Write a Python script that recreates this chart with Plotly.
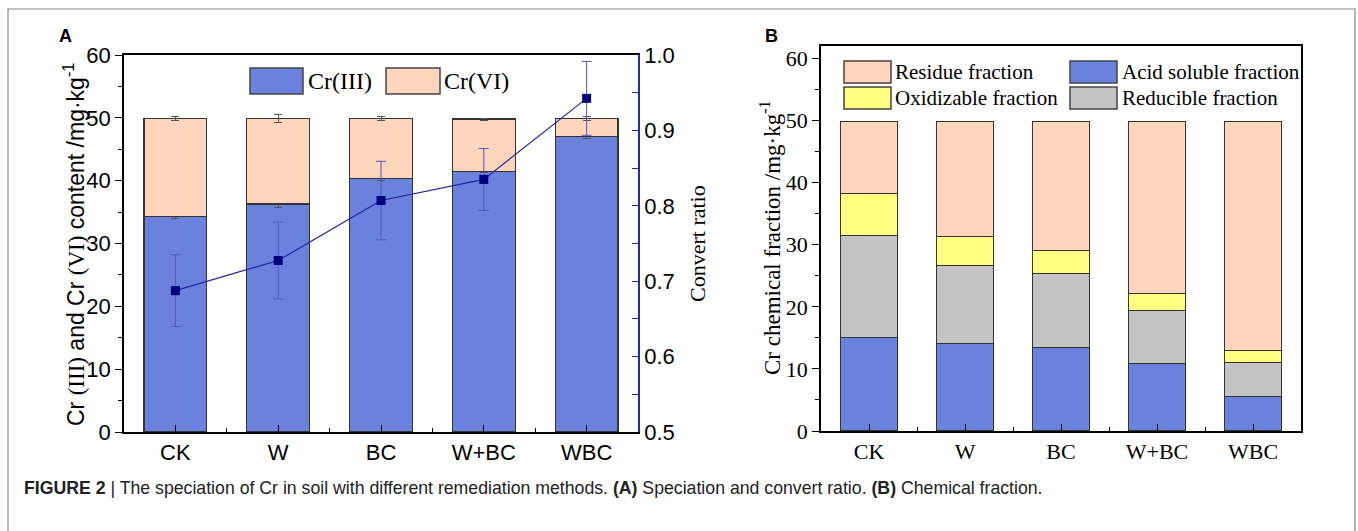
import plotly.graph_objects as go

# ---------------- data ----------------
categories = ["CK", "W", "BC", "W+BC", "WBC"]

# Panel A: speciation (mg/kg) and convert ratio
cr3 = [34.3, 36.3, 40.3, 41.5, 47.0]
cr3_err = [0.3, 0.5, 0.3, 0.15, 0.3]
cr6 = [15.6, 13.6, 9.6, 8.3, 2.9]
total_err = [0.3, 0.6, 0.25, 0.15, 0.3]
convert_ratio = [0.6875, 0.7275, 0.807, 0.835, 0.9425]
convert_err = [0.0475, 0.051, 0.052, 0.041, 0.049]

# Panel B: chemical fractions (mg/kg)
acid_soluble = [15.0, 14.1, 13.4, 10.9, 5.5]
reducible = [16.5, 12.6, 12.0, 8.5, 5.5]
oxidizable = [6.7, 4.6, 3.7, 2.8, 2.0]
residue = [11.7, 18.6, 20.8, 27.6, 36.9]

# ---------------- styles ----------------
W, H = 1358, 531
BLUE = "rgb(106,130,221)"
PEACH = "rgb(253,212,188)"
YELLOW = "rgb(255,255,128)"
GRAY = "rgb(196,196,196)"
NAVY = "#2a2a9c"
EDGE = "#333333"
SANS = "Liberation Sans, Arial, sans-serif"
SERIF = "Liberation Serif, Times New Roman, serif"


def px(x):
    return x / W


def py(y):
    return 1 - y / H


xpos = list(range(len(categories)))

fig = go.Figure()

# Panel A bars
fig.add_trace(go.Bar(
    x=xpos, y=cr3, name="Cr(III)", width=0.61, xaxis="x", yaxis="y",
    marker=dict(color=BLUE, line=dict(color=EDGE, width=1.2)),
    error_y=dict(type="data", array=cr3_err, color="#555555", thickness=1, width=4),
    showlegend=False,
))
fig.add_trace(go.Bar(
    x=xpos, y=cr6, name="Cr(VI)", width=0.61, xaxis="x", yaxis="y",
    marker=dict(color=PEACH, line=dict(color=EDGE, width=1.2)),
    error_y=dict(type="data", array=total_err, color="#555555", thickness=1, width=4),
    showlegend=False,
))
# Convert ratio line
fig.add_trace(go.Scatter(
    x=xpos, y=convert_ratio, name="Convert ratio", xaxis="x", yaxis="y2",
    mode="lines+markers",
    line=dict(color="#2323a8", width=1.2),
    marker=dict(symbol="square", size=9, color="#000080"),
    error_y=dict(type="data", array=convert_err, color="#5555bb", thickness=1, width=5),
    showlegend=False,
))

# Panel B bars
seriesB = [
    ("Acid soluble fraction", acid_soluble, BLUE),
    ("Reducible fraction", reducible, GRAY),
    ("Oxidizable fraction", oxidizable, YELLOW),
    ("Residue fraction", residue, PEACH),
]
for name, vals, col in seriesB:
    fig.add_trace(go.Bar(
        x=xpos, y=vals, name=name, width=0.6, xaxis="x2", yaxis="y3",
        marker=dict(color=col, line=dict(color=EDGE, width=1.2)),
        showlegend=False,
    ))

axA_x = [px(124), px(638)]
axA_y = [py(432), py(55)]
axB_x = [px(821), px(1301)]
axB_y = [py(431), py(46)]

common_x = dict(
    range=[-0.5, 4.5], tickmode="array", tickvals=xpos, ticktext=categories,
    showline=True, linecolor="black", linewidth=1.5, mirror=True,
    ticks="inside", ticklen=7, tickcolor="black", tickwidth=1.2,
    minor=dict(dtick=0.5, tick0=0.5, ticks="inside", ticklen=4, tickcolor="black"),
    showgrid=False, zeroline=False, automargin=False,
)

fig.update_layout(
    width=W, height=H,
    margin=dict(l=0, r=0, t=0, b=0, pad=0),
    paper_bgcolor="white", plot_bgcolor="white",
    barmode="stack",
    showlegend=False,
    xaxis=dict(domain=axA_x, anchor="y",
               tickfont=dict(family=SANS, size=22, color="black"), **common_x),
    yaxis=dict(domain=axA_y, anchor="x", range=[0, 60], dtick=10,
               showline=True, linecolor="black", linewidth=1.5,
               ticks="outside", ticklen=7, tickwidth=1.2, tickcolor="black",
               minor=dict(dtick=5, ticks="outside", ticklen=4, tickcolor="black"),
               showgrid=False, zeroline=False, automargin=False,
               tickfont=dict(family=SANS, size=22, color="black")),
    yaxis2=dict(overlaying="y", anchor="x", side="right", range=[0.5, 1.0],
                dtick=0.1, tickformat=".1f",
                showline=True, linecolor=NAVY, linewidth=1.5,
                ticks="inside", ticklen=6, tickwidth=1.2, tickcolor=NAVY,
                minor=dict(dtick=0.05, ticks="inside", ticklen=6, tickcolor=NAVY),
                showgrid=False, zeroline=False, automargin=False,
                tickfont=dict(family=SANS, size=22, color="black")),
    xaxis2=dict(domain=axB_x, anchor="y3",
                tickfont=dict(family=SERIF, size=22, color="black"), **common_x),
    yaxis3=dict(domain=axB_y, anchor="x2", range=[0, 62], tickvals=[0, 10, 20, 30, 40, 50, 60],
                showline=True, linecolor="black", linewidth=1.5, mirror=True,
                ticks="outside", ticklen=7, tickwidth=1.2, tickcolor="black",
                minor=dict(tickvals=[5, 15, 25, 35, 45, 55], ticks="outside", ticklen=4, tickcolor="black"),
                showgrid=False, zeroline=False, automargin=False,
                tickfont=dict(family=SERIF, size=22, color="black")),
)

shapes = []
annotations = []

# outer frame
shapes.append(dict(type="rect", xref="paper", yref="paper",
                   x0=px(8), x1=px(1355), y0=py(560), y1=py(9),
                   line=dict(color="#8a8a8a", width=1.2), fillcolor="rgba(0,0,0,0)", layer="below"))


def legend_item(x0, x1, y0, y1, color, text, tx, family, size):
    shapes.append(dict(type="rect", xref="paper", yref="paper",
                       x0=px(x0), x1=px(x1), y0=py(y1), y1=py(y0),
                       fillcolor=color, line=dict(color="#444444", width=1.5)))
    annotations.append(dict(xref="paper", yref="paper", x=px(tx), y=py((y0 + y1) / 2),
                            xanchor="left", yanchor="middle", showarrow=False,
                            text=text, font=dict(family=family, size=size, color="black")))


# Panel A legend
legend_item(250, 303, 68, 94, BLUE, "Cr(III)", 306, SERIF, 24)
legend_item(386, 440, 68, 94, PEACH, "Cr(VI)", 442, SERIF, 24)

# Panel B legend
legend_item(844, 891, 61, 83, PEACH, "Residue fraction", 893, SERIF, 21)
legend_item(1070, 1117, 61, 83, BLUE, "Acid soluble fraction", 1120, SERIF, 21)
legend_item(844, 891, 87, 109, YELLOW, "Oxidizable fraction", 893, SERIF, 21)
legend_item(1070, 1117, 87, 109, GRAY, "Reducible fraction", 1120, SERIF, 21)

# panel letters
annotations.append(dict(xref="paper", yref="paper", x=px(65), y=py(36), showarrow=False,
                        xanchor="center", yanchor="middle",
                        text="<b>A</b>", font=dict(family=SANS, size=18, color="black")))
annotations.append(dict(xref="paper", yref="paper", x=px(771), y=py(36), showarrow=False,
                        xanchor="center", yanchor="middle",
                        text="<b>B</b>", font=dict(family=SANS, size=18, color="black")))

# axis titles
ytitleA = ("Cr <span style=\"font-family:Liberation Serif\">(III)</span> and Cr "
           "<span style=\"font-family:Liberation Serif\">(VI)</span> content /mg·kg<sup>-1</sup>")
annotations.append(dict(xref="paper", yref="paper", x=px(74), y=py(245), showarrow=False,
                        xanchor="center", yanchor="middle",
                        textangle=-90, text=ytitleA,
                        font=dict(family=SANS, size=23, color="black")))
annotations.append(dict(xref="paper", yref="paper", x=px(697), y=py(243), showarrow=False,
                        xanchor="center", yanchor="middle",
                        textangle=-90, text="Convert ratio",
                        font=dict(family=SERIF, size=22, color="black")))
annotations.append(dict(xref="paper", yref="paper", x=px(770), y=py(238), showarrow=False,
                        xanchor="center", yanchor="middle",
                        textangle=-90, text="Cr chemical fraction /mg·kg<sup>-1</sup>",
                        font=dict(family=SERIF, size=23, color="black")))

# caption
annotations.append(dict(xref="paper", yref="paper", x=px(22), y=py(488), showarrow=False,
                        xanchor="left", yanchor="middle",
                        text="<b>FIGURE 2</b> | The speciation of Cr in soil with different remediation methods. "
                             "<b>(A)</b> Speciation and convert ratio. <b>(B)</b> Chemical fraction.",
                        font=dict(family=SANS, size=17.7, color="#222222")))

fig.update_layout(shapes=shapes, annotations=annotations)

fig.write_html("out.html")
